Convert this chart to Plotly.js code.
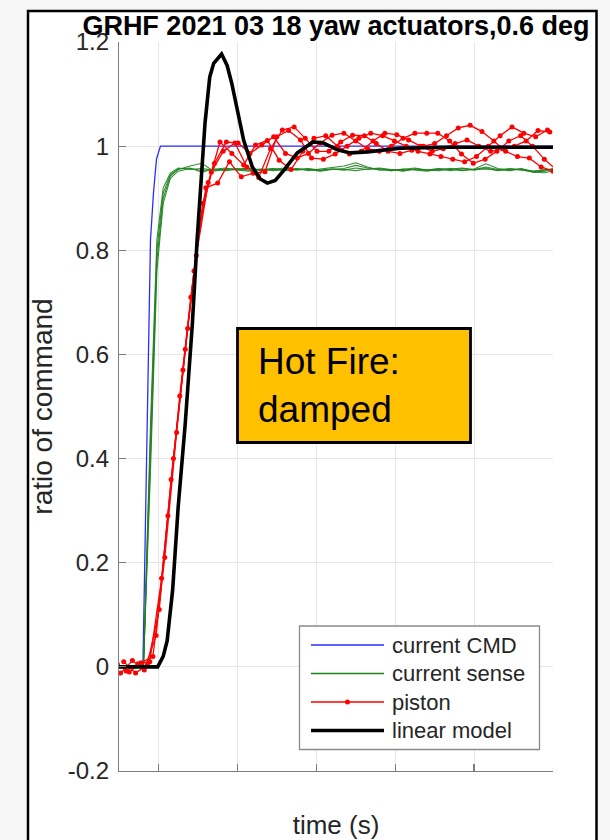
<!DOCTYPE html>
<html>
<head>
<meta charset="utf-8">
<script src="https://cdn.plot.ly/plotly-3.0.1.min.js"></script>
<style>
  html, body { margin: 0; padding: 0; background: #f6f6f6; }
  #chart { width: 610px; height: 840px; }
</style>
</head>
<body>
<div id="chart"></div>
<script>
// ---------------- data ----------------
// current command (all runs coincide)
const cmdTime  = [-0.05, -0.0197, -0.0101, -0.0063, -0.0025, 0.0025, 0.5];
const cmdValue = [0, 0, 0.82, 0.91, 0.975, 1.0, 1.0];

// current sense, four runs on a common time base
const senseTime = [-0.05, -0.019, -0.010, -0.002, 0.006, 0.015, 0.025, 0.040, 0.055, 0.070,
                   0.085, 0.100, 0.115, 0.130, 0.145, 0.160, 0.175, 0.190, 0.205, 0.220,
                   0.235, 0.250, 0.265, 0.280, 0.295, 0.310, 0.325, 0.340, 0.355, 0.370,
                   0.385, 0.400, 0.415, 0.430, 0.445, 0.460, 0.475, 0.490, 0.500];
const senseRun1 = [0, 0, 0.44, 0.80, 0.91, 0.945, 0.955, 0.962, 0.967, 0.952,
                   0.955, 0.957, 0.954, 0.956, 0.953, 0.955, 0.957, 0.953, 0.956, 0.958,
                   0.962, 0.968, 0.960, 0.954, 0.955, 0.952, 0.956, 0.954, 0.957, 0.955,
                   0.953, 0.956, 0.966, 0.957, 0.954, 0.956, 0.952, 0.955, 0.956];
const senseRun2 = [0, 0, 0.38, 0.76, 0.89, 0.938, 0.952, 0.957, 0.953, 0.955,
                   0.958, 0.954, 0.952, 0.955, 0.957, 0.954, 0.956, 0.955, 0.952, 0.955,
                   0.957, 0.963, 0.958, 0.955, 0.953, 0.956, 0.954, 0.952, 0.955, 0.957,
                   0.954, 0.955, 0.960, 0.955, 0.953, 0.957, 0.950, 0.949, 0.953];
const senseRun3 = [0, 0, 0.41, 0.78, 0.90, 0.942, 0.956, 0.958, 0.950, 0.956,
                   0.953, 0.956, 0.958, 0.953, 0.955, 0.958, 0.954, 0.956, 0.953, 0.956,
                   0.954, 0.958, 0.955, 0.957, 0.953, 0.955, 0.958, 0.954, 0.956, 0.953,
                   0.957, 0.954, 0.958, 0.953, 0.956, 0.954, 0.951, 0.954, 0.955];
const senseRun4 = [0, 0, 0.47, 0.82, 0.92, 0.948, 0.958, 0.955, 0.957, 0.954,
                   0.956, 0.955, 0.957, 0.954, 0.956, 0.953, 0.955, 0.957, 0.954, 0.956,
                   0.955, 0.953, 0.956, 0.958, 0.955, 0.953, 0.956, 0.955, 0.953, 0.956,
                   0.958, 0.955, 0.956, 0.954, 0.957, 0.955, 0.950, 0.952, 0.957];

// piston position, four runs (sampled, each with its own start time)
const pistonTimeA = [-0.052, -0.037, -0.022, -0.007, 0.008, 0.023, 0.037, 0.052, 0.067, 0.082,
                     0.097, 0.112, 0.127, 0.142, 0.157, 0.172, 0.186, 0.201, 0.216, 0.231,
                     0.246, 0.261, 0.276, 0.291, 0.306, 0.321, 0.336, 0.350, 0.365, 0.380,
                     0.395, 0.410, 0.425, 0.440, 0.455, 0.470, 0.485, 0.500];
const pistonRunA  = [0.005, -0.010, 0.008, 0.02, 0.21, 0.45, 0.65, 0.85, 0.95, 0.99,
                     1.006, 0.96, 0.94, 0.995, 1.031, 1.037, 1.015, 0.99, 0.99, 1.008,
                     1.021, 1.02, 1.005, 0.99, 0.986, 0.992, 1.0, 1.005, 1.02, 1.035,
                     1.04, 1.028, 1.01, 0.99, 0.98, 0.977, 0.96, 0.952];
const pistonTimeB = [-0.048, -0.033, -0.018, -0.003, 0.012, 0.027, 0.041, 0.056, 0.071, 0.086,
                     0.101, 0.116, 0.131, 0.146, 0.161, 0.176, 0.190, 0.205, 0.220, 0.235,
                     0.250, 0.265, 0.280, 0.295, 0.310, 0.325, 0.340, 0.354, 0.369, 0.384,
                     0.399, 0.414, 0.429, 0.444, 0.459, 0.474, 0.489, 0.504];
const pistonRunB  = [-0.012, 0.012, -0.006, 0.06, 0.29, 0.52, 0.71, 0.89, 0.967, 1.008,
                     1.006, 0.986, 1.002, 1.018, 0.986, 0.977, 0.986, 1.006, 1.021, 1.025,
                     1.01, 0.995, 0.99, 1.0, 1.015, 1.025, 1.025, 1.025, 1.01, 0.985,
                     0.967, 0.975, 0.99, 1.01, 1.02, 1.0, 0.975, 0.955];
const pistonTimeC = [-0.044, -0.029, -0.014, 0.001, 0.016, 0.031, 0.045, 0.060, 0.075, 0.090,
                     0.105, 0.120, 0.135, 0.150, 0.165, 0.180, 0.194, 0.209, 0.224, 0.239,
                     0.254, 0.269, 0.284, 0.299, 0.314, 0.329, 0.344, 0.358, 0.373, 0.388,
                     0.403, 0.418, 0.433, 0.448, 0.463, 0.478, 0.493];
const pistonRunC  = [0.01, -0.012, 0.004, 0.11, 0.36, 0.57, 0.76, 0.92, 0.929, 0.97,
                     0.941, 0.948, 0.951, 1.018, 1.03, 1.012, 0.977, 0.975, 0.985, 1.0,
                     1.015, 1.025, 1.02, 1.01, 1.0, 0.99, 0.985, 0.98, 0.975, 0.97,
                     0.98, 1.0, 1.02, 1.037, 1.025, 1.018, 1.031];
const pistonTimeD = [-0.041, -0.026, -0.011, 0.004, 0.019, 0.034, 0.048, 0.063, 0.078, 0.093,
                     0.108, 0.123, 0.138, 0.153, 0.168, 0.183, 0.197, 0.212, 0.227, 0.242,
                     0.257, 0.272, 0.287, 0.302, 0.317, 0.332, 0.347, 0.361, 0.376, 0.391,
                     0.406, 0.421, 0.436, 0.451, 0.466, 0.481, 0.496];
const pistonRunD  = [-0.008, 0.006, 0.01, 0.17, 0.40, 0.61, 0.79, 0.93, 1.008, 0.986,
                     0.964, 1.002, 1.011, 0.973, 0.955, 0.99, 1.015, 1.02, 1.0, 0.985,
                     0.99, 1.01, 1.025, 1.022, 1.012, 1.0, 0.99, 0.995, 1.005, 1.012,
                     1.0, 0.99, 0.995, 1.0, 1.01, 1.03, 1.027];

// linear model response
const modelTime  = [-0.05, -0.001, 0.006, 0.011, 0.018, 0.025, 0.034, 0.043, 0.049, 0.054,
                    0.059, 0.065, 0.070, 0.080, 0.087, 0.093, 0.100, 0.108, 0.119, 0.129,
                    0.138, 0.148, 0.158, 0.176, 0.196, 0.209, 0.227, 0.243, 0.265, 0.285,
                    0.306, 0.370, 0.500];
const modelValue = [0, 0, 0.02, 0.05, 0.148, 0.307, 0.468, 0.66, 0.82, 0.93,
                    1.044, 1.133, 1.159, 1.177, 1.155, 1.12, 1.07, 1.011, 0.96, 0.937,
                    0.929, 0.934, 0.952, 0.987, 1.008, 1.006, 0.993, 0.987, 0.989, 0.993,
                    0.996, 0.998, 0.998];

// axes
const xTickValues = [0, 0.1, 0.2, 0.3, 0.4, 0.5];
const yTickValues = [-0.2, 0, 0.2, 0.4, 0.6, 0.8, 1.0, 1.2];
const yTickLabels = ['-0.2', '0', '0.2', '0.4', '0.6', '0.8', '1', '1.2'];

const seriesNames = ['current CMD', 'current sense', 'piston', 'linear model'];
const chartTitle = 'GRHF 2021 03 18 yaw actuators,0.6 deg';
const boxText = 'Hot Fire:<br>damped';

// ---------------- styling ----------------
const FONT = 'Liberation Sans, Arial, Helvetica, sans-serif';
const COL = { cmd: 'rgb(45,45,255)', sense: 'rgb(30,130,30)', piston: 'rgb(255,0,0)', model: '#000000' };
const W = 610, H = 840;
const M = { l: 119, r: 57, t: 42, b: 69 };
const PW = W - M.l - M.r, PH = H - M.t - M.b;
// pixel position on the page -> paper fraction of the plot area
const px = v => (v - M.l) / PW;
const py = v => (H - M.b - v) / PH;

const traces = [];
traces.push({ x: cmdTime, y: cmdValue, mode: 'lines', name: seriesNames[0],
  line: { color: COL.cmd, width: 1.3 }, showlegend: false });
[senseRun1, senseRun2, senseRun3, senseRun4].forEach(run => traces.push({
  x: senseTime, y: run, mode: 'lines', name: seriesNames[1],
  line: { color: COL.sense, width: 1.1 }, opacity: 0.9, showlegend: false }));
[[pistonTimeA, pistonRunA], [pistonTimeB, pistonRunB], [pistonTimeC, pistonRunC], [pistonTimeD, pistonRunD]]
  .forEach(([t, v]) => traces.push({
    x: t, y: v, mode: 'lines+markers', name: seriesNames[2],
    line: { color: COL.piston, width: 1.3 }, marker: { color: COL.piston, size: 5 }, showlegend: false }));
traces.push({ x: modelTime, y: modelValue, mode: 'lines', name: seriesNames[3],
  line: { color: COL.model, width: 3.6 }, showlegend: false });

// legend drawn as a boxed key in the lower right of the axes
const shapes = [];
const annotations = [];
// figure frame
shapes.push({ type: 'rect', xref: 'paper', yref: 'paper', layer: 'below',
  x0: px(28), x1: px(596.5), y0: py(860), y1: py(11),
  fillcolor: '#ffffff', line: { color: '#000000', width: 2.5 } });

const key = { left: 299.5, right: 539.5, top: 626, bottom: 749.5,
  lineX0: 311, lineX1: 384, textX: 390, rows: [645, 673.5, 702, 730.5] };
shapes.push({ type: 'rect', xref: 'paper', yref: 'paper',
  x0: px(key.left), x1: px(key.right), y0: py(key.bottom), y1: py(key.top),
  fillcolor: '#ffffff', line: { color: '#8a8a8a', width: 1.3 } });
const keyStyle = [
  { color: COL.cmd, width: 1.3 },
  { color: COL.sense, width: 1.3 },
  { color: COL.piston, width: 1.3 },
  { color: COL.model, width: 3.6 }
];
seriesNames.forEach((name, i) => {
  const yy = py(key.rows[i]);
  shapes.push({ type: 'line', xref: 'paper', yref: 'paper',
    x0: px(key.lineX0), x1: px(key.lineX1), y0: yy, y1: yy, line: keyStyle[i] });
  annotations.push({ xref: 'paper', yref: 'paper', x: px(key.textX), y: yy,
    xanchor: 'left', yanchor: 'middle', text: name, showarrow: false,
    font: { family: FONT, size: 22, color: '#262626' } });
});
// piston key marker
const mid = (key.lineX0 + key.lineX1) / 2;
shapes.push({ type: 'circle', xref: 'paper', yref: 'paper',
  x0: px(mid - 2.5), x1: px(mid + 2.5), y0: py(key.rows[2] + 2.5), y1: py(key.rows[2] - 2.5),
  fillcolor: COL.piston, line: { color: COL.piston, width: 0 } });

// highlighted text box
shapes.push({ type: 'rect', xref: 'paper', yref: 'paper',
  x0: px(237.5), x1: px(470.5), y0: py(442.5), y1: py(328.5),
  fillcolor: '#FFC000', line: { color: '#000000', width: 2.8 } });
annotations.push({ xref: 'paper', yref: 'paper', x: px(256), y: py(385),
  xanchor: 'left', yanchor: 'middle', align: 'left', text: boxText, showarrow: false,
  font: { family: FONT, size: 37, color: '#000000' } });

const axisCommon = {
  showline: true, linecolor: '#7d7d7d', linewidth: 1.2, mirror: false,
  ticks: 'inside', ticklen: 7, tickwidth: 1.2, tickcolor: '#7d7d7d',
  showgrid: true, gridcolor: '#e6e6e6', gridwidth: 1, zeroline: false,
  fixedrange: true
};

const layout = {
  width: W, height: H,
  margin: { l: M.l, r: M.r, t: M.t, b: M.b, pad: 0 },
  paper_bgcolor: '#f6f6f6',
  plot_bgcolor: 'rgba(0,0,0,0)',
  font: { family: FONT, color: '#262626' },
  showlegend: false,
  title: { text: chartTitle, x: 0.5, xref: 'paper', xanchor: 'center',
    y: 1 - 26 / H, yref: 'container', yanchor: 'middle',
    font: { family: FONT, size: 27, weight: 700, color: '#000000' } },
  xaxis: Object.assign({}, axisCommon, {
    range: [-0.05, 0.5], tickvals: xTickValues, showticklabels: false,
    title: { text: 'time (s)', font: { family: FONT, size: 26, color: '#262626' }, standoff: 45 }
  }),
  yaxis: Object.assign({}, axisCommon, {
    range: [-0.2, 1.2], tickvals: yTickValues, ticktext: yTickLabels,
    tickfont: { family: FONT, size: 24, color: '#262626' }, ticklabelstandoff: 4,
    title: { text: 'ratio of command', font: { family: FONT, size: 28, color: '#262626' }, standoff: 6 }
  }),
  shapes: shapes,
  annotations: annotations
};

Plotly.newPlot('chart', traces, layout, { displayModeBar: false, staticPlot: true });
</script>
</body>
</html>
